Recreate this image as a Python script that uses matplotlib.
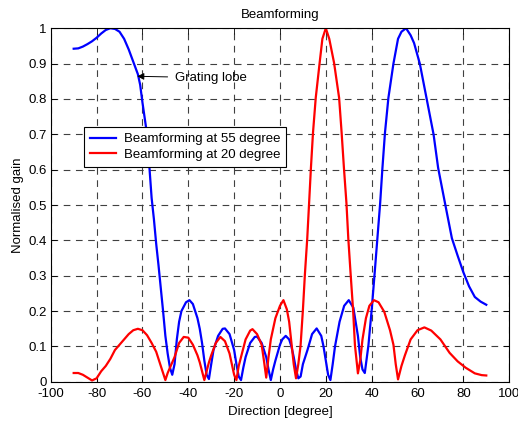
import numpy as np
import matplotlib
matplotlib.use("Agg")
from matplotlib import pyplot as plt

# values
blue_deg = [-90, -88, -86, -84, -82, -80, -78, -76, -74, -72, -70, -68, -66, -64, -62, -61,
            -60, -59, -58, -57, -56, -55, -54, -53, -52, -51, -50, -49, -48, -47, -46, -45,
            -44, -43, -41, -39.5, -38, -36, -35, -34, -33, -32, -31, -30, -29, -27, -25, -24,
            -22, -20, -19, -18, -17, -16, -15, -13, -11, -10, -8, -6, -5, -4, -3, -2, 0, 1,
            2.5, 4, 5, 6, 7, 8, 9, 10, 12, 14, 16, 18, 19, 20, 21, 22, 23, 24, 26, 28, 30,
            32, 33, 34, 35, 36, 37, 38.6, 40, 41.3, 42.5, 43.7, 44.7, 45.8, 47.3, 49.5, 51.5,
            53, 55, 57, 58.5, 61, 64, 67, 69, 72, 75, 77.5, 80, 82.5, 85, 87.5, 90]
blue_gain = [0.942, 0.943, 0.948, 0.955, 0.963, 0.973, 0.985, 0.995, 1.0, 0.998, 0.99, 0.97,
             0.94, 0.905, 0.87, 0.84, 0.79, 0.745, 0.70, 0.61, 0.52, 0.46, 0.39, 0.33, 0.265,
             0.20, 0.13, 0.08, 0.04, 0.02, 0.05, 0.12, 0.17, 0.20, 0.225, 0.231, 0.22, 0.18,
             0.15, 0.11, 0.06, 0.02, 0.008, 0.05, 0.09, 0.13, 0.15, 0.151, 0.135, 0.09, 0.05,
             0.015, 0.005, 0.04, 0.07, 0.11, 0.127, 0.128, 0.11, 0.07, 0.035, 0.005, 0.035,
             0.06, 0.105, 0.12, 0.13, 0.12, 0.10, 0.07, 0.035, 0.01, 0.015, 0.05, 0.09, 0.135,
             0.151, 0.13, 0.10, 0.06, 0.02, 0.005, 0.05, 0.10, 0.17, 0.215, 0.231, 0.21, 0.17,
             0.13, 0.07, 0.035, 0.025, 0.104, 0.203, 0.307, 0.406, 0.505, 0.605, 0.704, 0.803,
             0.90, 0.97, 0.99, 1.0, 0.98, 0.958, 0.90, 0.80, 0.70, 0.605, 0.505, 0.406, 0.357,
             0.31, 0.27, 0.24, 0.227, 0.218]

red_deg = [-90, -88, -86, -84, -82, -80, -78, -76, -74, -72, -70, -68, -66, -64, -62, -60,
           -58, -56, -54, -53, -52, -51, -50, -49, -48, -46, -44, -42, -40, -38, -36, -35,
           -34, -33, -32, -31, -30, -28, -26, -24, -22, -21, -20, -19, -18, -17, -15, -13,
           -12, -10, -8, -7, -6, -5, -4, -2, 0, 1.5, 3, 4, 5, 6, 7, 8, 9, 10, 10.9, 11.9,
           12.7, 13.5, 14.4, 15.6, 17.3, 18.5, 20, 21.5, 23.6, 25.8, 26.9, 27.9, 29, 29.8,
           30.8, 31.9, 32.7, 34, 35, 36, 37.5, 39, 41, 43, 45.5, 48, 49.5, 50.5, 51.5, 53,
           54.5, 57, 60, 63, 66, 70, 74, 77.5, 81, 85, 88, 90]
red_gain = [0.025, 0.025, 0.02, 0.012, 0.004, 0.01, 0.03, 0.045, 0.065, 0.09, 0.105, 0.12,
            0.135, 0.146, 0.15, 0.146, 0.132, 0.11, 0.085, 0.065, 0.045, 0.025, 0.005, 0.025,
            0.04, 0.07, 0.11, 0.127, 0.125, 0.105, 0.075, 0.055, 0.03, 0.005, 0.03, 0.055,
            0.075, 0.11, 0.127, 0.115, 0.08, 0.05, 0.02, 0.005, 0.045, 0.07, 0.12, 0.145,
            0.149, 0.135, 0.105, 0.06, 0.012, 0.07, 0.12, 0.18, 0.215, 0.231, 0.205, 0.17,
            0.11, 0.05, 0.01, 0.05, 0.104, 0.203, 0.307, 0.406, 0.505, 0.605, 0.704, 0.803,
            0.902, 0.97, 1.0, 0.97, 0.902, 0.803, 0.704, 0.605, 0.505, 0.406, 0.307, 0.203,
            0.104, 0.024, 0.06, 0.12, 0.18, 0.215, 0.231, 0.225, 0.198, 0.146, 0.105, 0.05,
            0.007, 0.045, 0.075, 0.12, 0.146, 0.154, 0.145, 0.12, 0.082, 0.058, 0.04, 0.024,
            0.019, 0.018]

xticks = np.arange(-100, 101, 20)
yticks = np.round(np.arange(0, 1.01, 0.1), 1)
ytick_labels = ["0"] + [str(v) for v in yticks[1:-1]] + ["1"]


def main():
    plt.rcParams['font.family'] = ['Liberation Sans', 'DejaVu Sans']
    plt.rcParams['font.size'] = 9.5
    plt.rcParams['axes.unicode_minus'] = False

    fig = plt.figure(figsize=(5.18, 4.21), dpi=100)
    ax = fig.add_axes([0.098, 0.093, 0.885, 0.84])

    ax.plot(blue_deg, blue_gain, color=(0, 0, 1), lw=1.6, label="Beamforming at 55 degree")
    ax.plot(red_deg, red_gain, color=(1, 0, 0), lw=1.6, label="Beamforming at 20 degree")

    ax.set_xlim(-100, 100)
    ax.set_ylim(0, 1)
    ax.set_xticks(xticks)
    ax.set_yticks(yticks)
    ax.set_yticklabels(ytick_labels)
    ax.tick_params(direction='in', top=True, right=True, length=4, width=0.6, pad=3)
    ax.tick_params(axis='x', pad=4.5)
    ax.grid(True, color='0.25', linestyle=(0, (6, 5)), lw=0.8)
    for s in ax.spines.values():
        s.set_linewidth(0.8)

    ax.set_title("Beamforming", fontsize=9.5, pad=7)
    ax.set_xlabel("Direction [degree]", labelpad=4)
    ax.set_ylabel("Normalised gain", labelpad=3)

    ax.annotate("Grating lobe", xy=(-62.3, 0.864), xytext=(-46, 0.86),
                ha='left', va='center', fontsize=9.5,
                arrowprops=dict(arrowstyle='-|>', color='k', lw=0.7,
                                mutation_scale=10, shrinkA=3, shrinkB=0))

    leg = ax.legend(loc='upper left', bbox_to_anchor=(0.072, 0.72), fancybox=False,
                    edgecolor='k', framealpha=1, fontsize=9.5, handlelength=2.0,
                    borderpad=0.45, labelspacing=0.25, handletextpad=0.6, borderaxespad=0)
    leg.get_frame().set_linewidth(0.8)

    fig.savefig("out.png", dpi=100)


if __name__ == '__main__':
    main()
